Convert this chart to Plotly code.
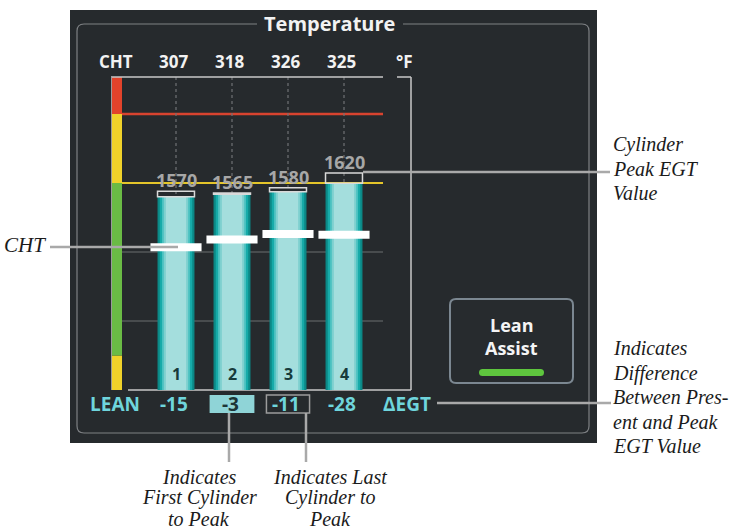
import plotly.graph_objects as go

W, H = 732, 531

# ---------------- data ----------------
cylinders = [1, 2, 3, 4]
cylinder_labels = ["1", "2", "3", "4"]
cht_values = [307, 318, 326, 325]
egt_now = [1555, 1562, 1569, 1592]
egt_peak = [1570, 1565, 1580, 1620]
delta_egt = [-15, -3, -11, -28]
first_to_peak = 2
last_to_peak = 3
cht_band_lows = [100, 150, 400, 500]
cht_band_highs = [150, 400, 500, 554]
cht_band_colors = ["#f0d22a", "#6abb45", "#f0d22a", "#e2432b"]
cht_redline = 500
cht_caution = 400
cht_grid = [200, 300]

# ---------------- helpers ----------------
PANEL_FONT = "Open Sans"
SERIF = "Liberation Serif"
CYAN = "#6fd5dc"
LEADER = "#a9a9a9"

shapes = []
annotations = []


def rrect_path(x0, y0, x1, y1, r):
    return (f"M {x0+r},{y0} H {x1-r} Q {x1},{y0} {x1},{y0+r} V {y1-r} "
            f"Q {x1},{y1} {x1-r},{y1} H {x0+r} Q {x0},{y1} {x0},{y1-r} "
            f"V {y0+r} Q {x0},{y0} {x0+r},{y0} Z")


def pline(x0, y0, x1, y1, color, width, layer="below", xref="x", yref="y", dash="solid"):
    shapes.append(dict(type="line", x0=x0, y0=y0, x1=x1, y1=y1, xref=xref, yref=yref,
                       line=dict(color=color, width=width, dash=dash), layer=layer))


def text(x, y, t, size, color, xanchor="center", family=PANEL_FONT, xref="x", yref="y",
         xshift=0, yshift=0):
    annotations.append(dict(x=x, y=y, xref=xref, yref=yref, text=t, showarrow=False,
                            font=dict(family=family, size=size, color=color),
                            xanchor=xanchor, yanchor="middle", xshift=xshift, yshift=yshift))


# ---------------- panel background (paper refs -> bottom-most layer) ----------------
shapes.append(dict(type="rect", x0=70 / W, y0=1 - 443 / H, x1=597 / W, y1=1 - 10 / H,
                   xref="paper", yref="paper",
                   fillcolor="#262a2d", line=dict(width=0), layer="below"))
# inner rounded frame with title gap
shapes.append(dict(type="path", xref="x", yref="y", layer="below",
                   path=("M 257,24 H 84 Q 77,24 77,31 V 426 Q 77,433 84,433 H 582 "
                         "Q 589,433 589,426 V 31 Q 589,24 582,24 H 403"),
                   line=dict(color="#7e8184", width=1.2)))
text(329, 23, "<b>Temperature</b>", 20, "#f2f2f2")

# bar-area frame
pline(111, 77, 383, 77, "#c9c9c9", 1.5)
pline(397, 77, 411, 77, "#c9c9c9", 1.5)
pline(411, 77, 411, 390, "#c9c9c9", 1.5)
pline(128, 390, 411, 390, "#c9c9c9", 1.5)
pline(111.5, 77, 111.5, 390, "#9a9a9a", 1)

# CHT colour band (data in CHT units)
for lo, hi, col in zip(cht_band_lows, cht_band_highs, cht_band_colors):
    shapes.append(dict(type="rect", xref="x", yref="y3", x0=112, x1=122, y0=lo, y1=hi,
                       fillcolor=col, line=dict(width=0), layer="below"))

# grid + threshold lines on CHT scale
for g in cht_grid:
    pline(122, g, 383, g, "#6b6e70", 1.2, yref="y3")
pline(122, cht_redline, 383, cht_redline, "#d8432f", 2.5, yref="y3")
pline(122, cht_caution, 383, cht_caution, "#e4c52a", 2, yref="y3")

# dotted column guides
for c in cylinders:
    pline(c, 77, c, 390, "#6f7275", 1.2, xref="x2", dash="dot")

# ---------------- traces ----------------
fig = go.Figure()
fig.add_trace(go.Scatter(x=[], y=[], xaxis="x", yaxis="y", showlegend=False, hoverinfo="skip"))

bar_w = 0.66
grad = [(1.00, "#0b8886"), (0.88, "#16aaa8"), (0.76, "#49c1c0"), (0.66, "#7ed0cf"), (0.55, "#a4dedd")]
for frac, col in grad:
    fig.add_trace(go.Bar(x=cylinders, y=egt_now, width=bar_w * frac, marker=dict(color=col, line=dict(width=0)),
                         xaxis="x2", yaxis="y2", showlegend=False, hoverinfo="skip"))

# peak boxes
for c, n, p in zip(cylinders, egt_now, egt_peak):
    shapes.append(dict(type="rect", xref="x2", yref="y2", x0=c - bar_w / 2, x1=c + bar_w / 2,
                       y0=n, y1=p, line=dict(color="#d9d9d9", width=1.5),
                       fillcolor="rgba(0,0,0,0)", layer="above"))

# CHT markers
fig.add_trace(go.Scatter(x=cylinders, y=cht_values, mode="markers", xaxis="x2", yaxis="y3",
                         marker=dict(symbol="line-ew", size=36.5,
                                     line=dict(width=8, color="#ffffff")),
                         showlegend=False, hoverinfo="skip"))

# peak labels
for c, p in zip(cylinders, egt_peak):
    text(c, p, f"<b>{p}</b>", 18, "#a7a7a7", xref="x2", yref="y2", yshift=11)

# cylinder numbers
for c, lab in zip(cylinders, cylinder_labels):
    text(c, 374, f"<b>{lab}</b>", 16, "#173b3b", xref="x2")

# CHT row
text(116, 61.5, "<b>CHT</b>", 17, "#f2f2f2")
for c, v in zip(cylinders, cht_values):
    text(c, 61.5, f"<b>{v}</b>", 17, "#f2f2f2", xref="x2", xshift=-3)
text(404, 61.5, "<b>°F</b>", 17, "#f2f2f2")

# LEAN row
text(115, 404, "<b>LEAN</b>", 19, CYAN)
for c, d in zip(cylinders, delta_egt):
    col = CYAN
    if c == first_to_peak:
        shapes.append(dict(type="rect", xref="x2", yref="y", x0=c - 0.4, x1=c + 0.4, y0=395, y1=413,
                           fillcolor="#8fd4d7", line=dict(width=0), layer="below"))
        col = "#1c3537"
    if c == last_to_peak:
        shapes.append(dict(type="rect", xref="x2", yref="y", x0=c - 0.385, x1=c + 0.385, y0=395, y1=413,
                           fillcolor="rgba(0,0,0,0)", line=dict(color="#9c9c9c", width=1.5), layer="below"))
    text(c, 404, f"<b>{d}</b>", 19, col, xref="x2", xshift=-2)
text(407, 404, "<b>ΔEGT</b>", 19, CYAN)

# Lean Assist button
shapes.append(dict(type="path", xref="x", yref="y", layer="below", path=rrect_path(450, 299, 573, 383, 6),
                   fillcolor="#272b2e", line=dict(color="#7b8791", width=2)))
shapes.append(dict(type="path", xref="x", yref="y", layer="below", path=rrect_path(479, 369, 544, 376, 3.5),
                   fillcolor="#5ec63e", line=dict(width=0)))
text(511.5, 325, "<b>Lean</b>", 18, "#f4f4f4")
text(511.5, 348, "<b>Assist</b>", 18, "#f4f4f4")

# ---------------- callouts ----------------
pline(50, 247, 178, 247, LEADER, 2.5, layer="above")
pline(363, 172, 610, 172, LEADER, 2.5, layer="above")
pline(437, 403, 611, 403, LEADER, 2.5, layer="above")
pline(229, 413, 229, 462, LEADER, 2.5, layer="above")
pline(306, 413, 306, 462, LEADER, 2.5, layer="above")

TC = "#1b1b1b"
SZ = 20
text(48, 245, "<i>CHT</i>", SZ + 1, TC, xanchor="right", family=SERIF)
for t, y in zip(["Cylinder", "Peak EGT", "Value"], [144, 168.5, 193]):
    text(611, y, f"<i>{t}</i>", SZ, TC, xanchor="left", family=SERIF)
for t, y in zip(["Indicates", "Difference", "Between Pres-", "ent and Peak", "EGT Value"],
                [348, 373, 397, 422, 446]):
    text(611, y, f"<i>{t}</i>", SZ, TC, xanchor="left", family=SERIF)
for t, y in zip(["Indicates", "First Cylinder", "to Peak"], [476.5, 497.5, 518.5]):
    text(199, y, f"<i>{t}</i>", SZ, TC, family=SERIF)
for t, y in zip(["Indicates Last", "Cylinder to", "Peak"], [476.5, 497.5, 518.5]):
    text(330, y, f"<i>{t}</i>", SZ, TC, family=SERIF)

# ---------------- layout ----------------
x_lo_px, x_hi_px = 112, 411
c0_px, step_px = 176, 56
y_top_px, y_bot_px = 77, 390

fig.update_layout(
    width=W, height=H, autosize=False,
    margin=dict(l=0, r=0, t=0, b=0, pad=0),
    paper_bgcolor="white", plot_bgcolor="rgba(0,0,0,0)",
    barmode="overlay", showlegend=False,
    xaxis=dict(domain=[0, 1], range=[0, W], visible=False, fixedrange=True),
    yaxis=dict(domain=[0, 1], range=[H, 0], visible=False, fixedrange=True),
    xaxis2=dict(domain=[x_lo_px / W, x_hi_px / W],
                range=[1 + (x_lo_px - c0_px) / step_px, 1 + (x_hi_px - c0_px) / step_px],
                visible=False, fixedrange=True, anchor="y2"),
    yaxis2=dict(domain=[1 - y_bot_px / H, 1 - y_top_px / H], range=[1024, 1884],
                visible=False, fixedrange=True, anchor="x2"),
    yaxis3=dict(domain=[1 - y_bot_px / H, 1 - y_top_px / H], range=[100, 553.6],
                visible=False, fixedrange=True, anchor="x2", overlaying="y2"),
    shapes=shapes, annotations=annotations,
)

fig.write_html("out.html", config=dict(displayModeBar=False),
               post_script="document.body.style.margin='0';document.body.style.padding='0';")
